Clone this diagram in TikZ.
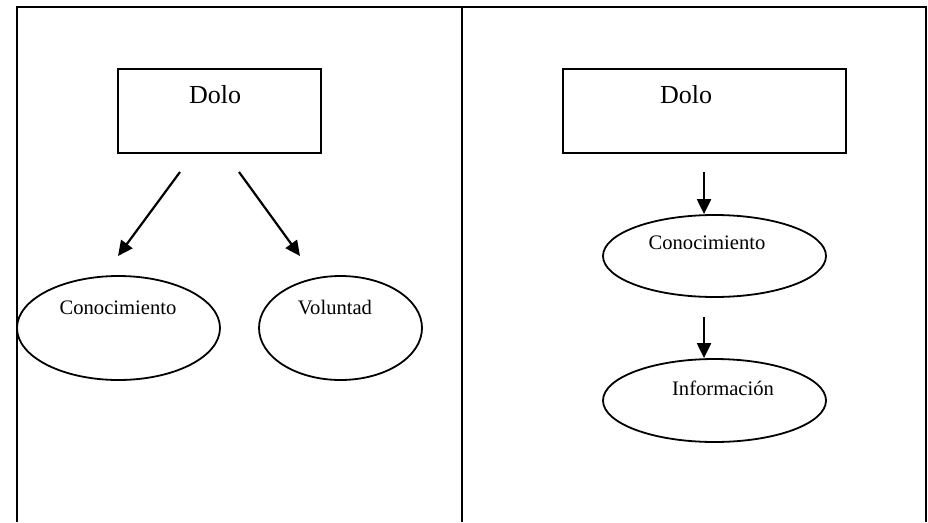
\documentclass[tikz,border=0pt]{standalone}
\usepackage{fontspec}
\setmainfont{Liberation Serif}
\usetikzlibrary{positioning}
\usetikzlibrary{shapes.geometric}
\usetikzlibrary{arrows.meta}

\tikzset{
    caja/.style={draw, line width=2pt, rectangle, minimum width=203pt, minimum height=84pt, inner sep=0pt},
    elipse/.style={draw, line width=1.8pt, ellipse, inner sep=0pt},
    titulo/.style={font=\fontsize{26}{26}\selectfont, inner sep=0pt},
    etiqueta/.style={font=\fontsize{20.6}{21}\selectfont, inner sep=0pt},
    flecha/.style={line width=2.2pt, -{Triangle[length=15pt,width=14pt]}}
}

\begin{document}
\begin{tikzpicture}[x=1pt,y=-1pt]

    \useasboundingbox (0,0) rectangle (928,522);

    % marco
    \draw[line width=2.2pt] (17,522) -- (17,7) -- (926,7) -- (926,522);
    \draw[line width=2.2pt] (462,7) -- (462,522);

    % izquierda
    \node[caja] (dolo1) at (219.5,111) {};
    \node[titulo] (tdolo1) at (215,95) {Dolo};
    \node[elipse, minimum width=203pt, minimum height=104pt] (cono1) at (118.5,328) {};
    \node[etiqueta] (tcono1) at (118,308) {Conocimiento};
    \node[elipse, minimum width=163pt, minimum height=104pt] (vol) at (340.5,328) {};
    \node[etiqueta] (tvol) at (335,308) {Voluntad};

    \coordinate (a1) at (180,172);
    \coordinate (b1) at (118,256);
    \coordinate (a2) at (239,172);
    \coordinate (b2) at (300,256);
    \draw[flecha] (a1) -- (b1);
    \draw[flecha] (a2) -- (b2);

    % derecha
    \node[caja, minimum width=283pt] (dolo2) at (704.5,111) {};
    \node[titulo] (tdolo2) at (686,95) {Dolo};
    \node[elipse, minimum width=223pt, minimum height=82pt] (cono2) at (714.5,256) {};
    \node[etiqueta] (tcono2) at (707,243) {Conocimiento};
    \node[elipse, minimum width=223pt, minimum height=83pt] (info) at (714.5,400.5) {};
    \node[etiqueta] (tinfo) at (723,388) {Información};

    \coordinate (a3) at (704,172);
    \coordinate (a4) at (704,317);
    \draw[flecha] (a3) -- (a3 |- cono2.north);
    \draw[flecha] (a4) -- (a4 |- info.north);

\end{tikzpicture}
\end{document}
